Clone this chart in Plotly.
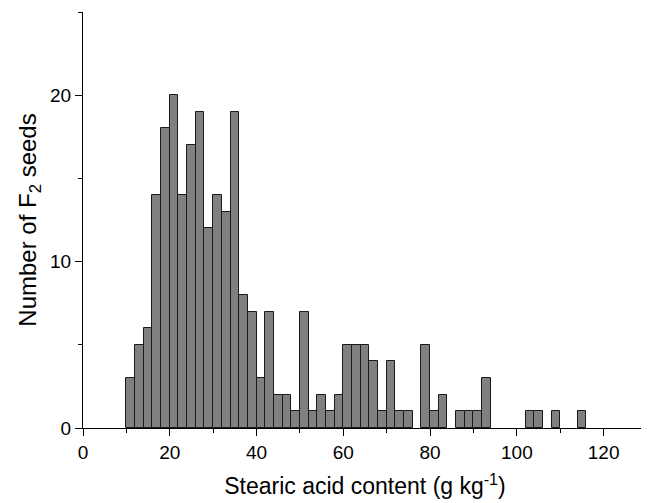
import plotly.graph_objects as go

# Histogram bins (left edges, width 2 g/kg) and counts of F2 seeds
bin_starts = [10, 12, 14, 16, 18, 20, 22, 24, 26, 28, 30, 32, 34, 36, 38, 40,
              42, 44, 46, 48, 50, 52, 54, 56, 58, 60, 62, 64, 66, 68, 70, 72,
              74, 76, 78, 80, 82, 84, 86, 88, 90, 92, 94, 96, 98, 100, 102,
              104, 106, 108, 110, 112, 114]
counts = [3, 5, 6, 14, 18, 20, 14, 17, 19, 12, 14, 13, 19, 8, 7, 3,
          7, 2, 2, 1, 7, 1, 2, 1, 2, 5, 5, 5, 4, 1, 4, 1,
          1, 0, 5, 1, 2, 0, 1, 1, 1, 3, 0, 0, 0, 0, 1,
          1, 0, 1, 0, 0, 1]
bin_width = 2

x_tickvals = [0, 20, 40, 60, 80, 100, 120]
y_tickvals = [0, 10, 20]

FONT = "Liberation Sans, Arial, sans-serif"

# empty bins get no outline
line_widths = [1 if c > 0 else 0 for c in counts]

fig = go.Figure(
    go.Bar(
        x=bin_starts,
        y=counts,
        width=bin_width,
        offset=0,
        marker=dict(color="#808080", line=dict(color="#1a1a1a", width=line_widths)),
    )
)

# page body has an 8px margin, so the figure is sized to fit the window
fig.update_layout(
    template="none",
    width=641,
    height=495,
    margin=dict(l=75, r=2, t=4, b=75, pad=0),
    plot_bgcolor="white",
    paper_bgcolor="white",
    showlegend=False,
    font=dict(family=FONT, color="black", size=19),
    bargap=0,
)

fig.update_xaxes(
    range=[0, 130],
    tickvals=x_tickvals,
    ticks="outside",
    ticklen=7,
    tickwidth=1,
    tickcolor="black",
    showline=True,
    linecolor="black",
    linewidth=1,
    showgrid=False,
    zeroline=False,
    automargin=False,
    minor=dict(ticks="outside", ticklen=4, dtick=10, tick0=0, tickcolor="black", showgrid=False),
    tickfont=dict(size=19),
    title=dict(text="Stearic acid content (g kg<sup>-1</sup>)", font=dict(size=23), standoff=16),
)

fig.update_yaxes(
    range=[0, 25],
    tickvals=y_tickvals,
    ticks="outside",
    ticklen=7,
    tickwidth=1,
    tickcolor="black",
    showline=True,
    linecolor="black",
    linewidth=1,
    showgrid=False,
    zeroline=False,
    automargin=False,
    minor=dict(ticks="outside", ticklen=4, dtick=5, tick0=0, tickcolor="black", showgrid=False),
    tickfont=dict(size=19),
    title=dict(text="Number of F<sub>2</sub> seeds", font=dict(size=24), standoff=6),
)

fig.write_html("out.html")
